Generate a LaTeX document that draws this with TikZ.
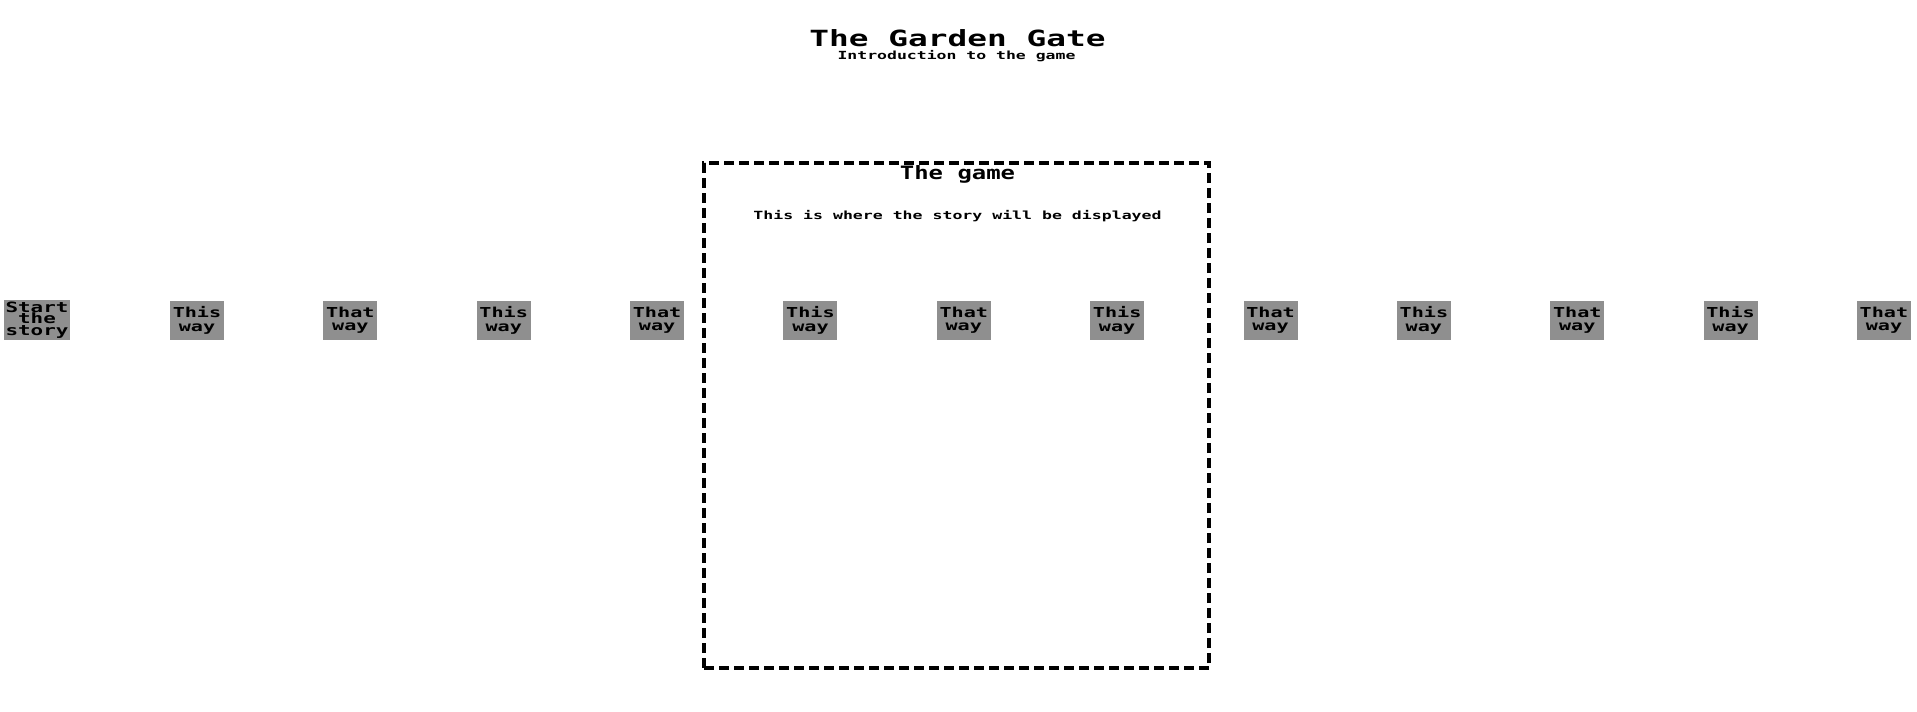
\documentclass[tikz,border=0pt]{standalone}
\usepackage{fontspec}
\newfontfamily\pix{DejaVu Sans Mono}[FakeStretch=1.47]
\newfontfamily\pixg{DejaVu Sans Mono}[FakeStretch=1.3]
\definecolor{btngray}{RGB}{143,143,143}
\tikzset{
  btn/.style={fill=btngray, inner sep=0pt, minimum width=54pt, minimum height=39pt,
    align=center, font=\pix\bfseries\fontsize{13.7}{13.4}\selectfont},
  startbtn/.style={btn, minimum width=66pt, minimum height=40pt,
    font=\pix\bfseries\fontsize{14.2}{11.7}\selectfont},
  gamebox/.style={draw=black, line width=4.5pt, dash pattern=on 10pt off 5pt,
    minimum width=505pt, minimum height=505pt, inner sep=0pt},
  lbl/.style={inner sep=0pt, anchor=base}
}
\begin{document}
\begin{tikzpicture}[x=1pt,y=-1pt]
\useasboundingbox (0,0) rectangle (1917,712);
\node[lbl, font=\pix\bfseries\fontsize{22.3}{24}\selectfont] (title) at (957.5,46.7) {The Garden Gate};
\node[lbl, font=\pix\bfseries\fontsize{11.2}{12}\selectfont] (subtitle) at (956.5,59) {Introduction to the game};
\node[gamebox] (game) at (956.5,415.5) {};
\node[lbl, font=\pixg\bfseries\fontsize{18.4}{20}\selectfont] (gametitle) at (957.5,179.3) {The game};
\node[lbl, font=\pix\bfseries\fontsize{11.25}{12}\selectfont] (story) at (957.5,219.3) {This is where the story will be displayed};
\node[startbtn] (start) at (37,320) {Start\\the\\story};
\foreach \k/\t in {1/This,2/That,3/This,4/That,5/This,6/That,7/This,8/That,9/This,10/That,11/This,12/That}{
  \node[btn] (b\k) at ({197+153.36*(\k-1)},320.5) {\t\\way};
}
\end{tikzpicture}
\end{document}
